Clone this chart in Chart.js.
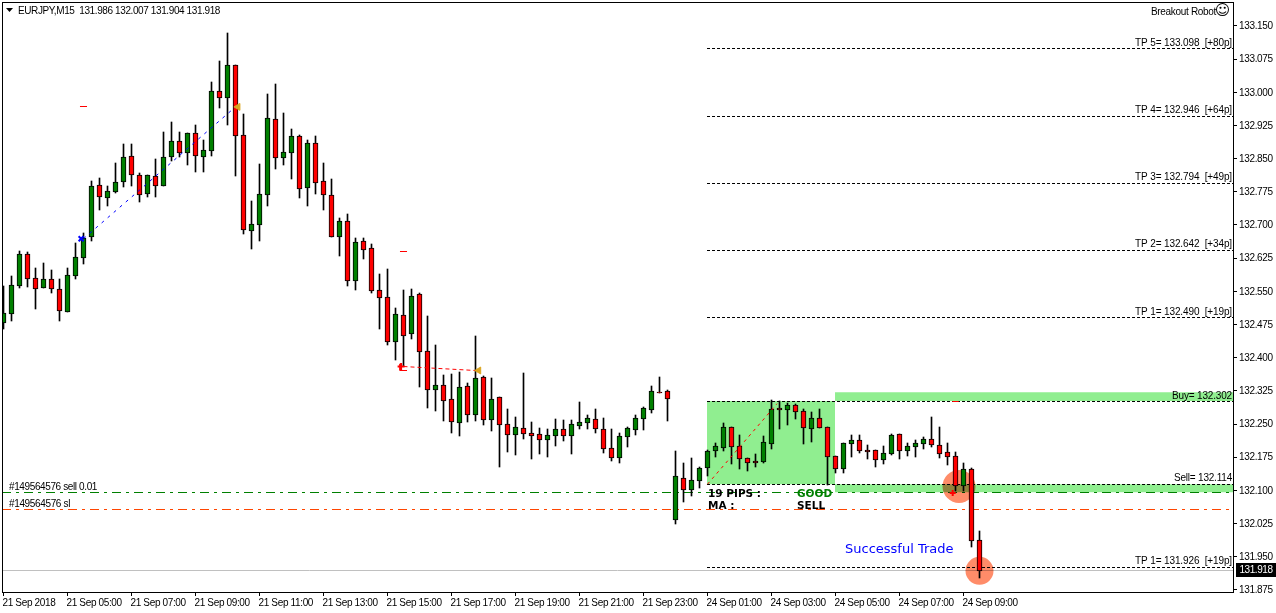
<!DOCTYPE html>
<html><head><meta charset="utf-8">
<style>html,body{margin:0;padding:0;background:#fff;overflow:hidden}canvas{display:block}</style>
<script src="https://cdn.jsdelivr.net/npm/chart.js@4"></script>
</head><body><canvas id="c" width="1276" height="613"></canvas>
<script>
const highs=[132.562,132.583,132.641,132.637,132.602,132.613,132.596,132.576,132.602,132.659,132.681,132.799,132.804,132.788,132.838,132.881,132.883,132.817,132.812,132.847,132.908,132.931,132.910,132.907,132.924,132.890,133.023,133.069,133.132,133.061,132.950,132.754,132.836,
132.994,133.017,132.951,132.917,132.903,132.890,132.899,132.838,132.802,132.715,132.724,132.670,132.670,132.657,132.589,132.600,132.512,132.551,132.555,132.545,132.494,132.428,132.360,132.362,132.367,132.342,132.448,132.357,132.353,132.310,132.283,132.265,132.365,132.253,132.239,132.237,132.260,132.258,132.258,132.299,132.270,132.283,132.262,132.238,132.228,132.242,132.270,132.288,132.334,132.356,132.326,132.188,
132.160,132.172,132.151,132.190,132.206,132.251,132.242,132.224,132.172,132.181,132.222,132.304,132.301,132.296,132.294,132.283,132.276,132.283,132.242,132.176,132.206,132.225,132.225,132.201,132.190,132.199,132.226,132.226,132.206,132.213,132.219,132.265,132.243,132.206,132.185,132.160,132.149,132.007];
const lows=[132.466,132.485,132.558,132.562,132.511,132.558,132.547,132.485,132.505,132.578,132.612,132.664,132.736,132.745,132.773,132.788,132.790,132.754,132.764,132.765,132.790,132.845,132.855,132.836,132.822,132.822,132.858,132.965,132.928,132.813,132.680,132.646,132.664,
132.743,132.827,132.836,132.806,132.763,132.745,132.772,132.736,132.674,132.632,132.564,132.555,132.625,132.548,132.467,132.429,132.395,132.383,132.444,132.335,132.288,132.281,132.258,132.231,132.224,132.256,132.258,132.249,132.236,132.154,132.188,132.181,132.218,132.172,132.184,132.177,132.202,132.213,132.184,132.240,132.240,132.231,132.186,132.168,132.163,132.200,132.227,132.238,132.276,132.321,132.258,132.025,
132.075,132.089,132.107,132.134,132.177,132.191,132.160,132.150,132.145,132.154,132.164,132.194,132.240,132.249,132.263,132.206,132.211,132.242,132.114,132.141,132.141,132.177,132.185,132.173,132.154,132.161,132.181,132.173,132.179,132.177,132.195,132.199,132.175,132.158,132.100,132.099,131.972,131.904];
const opens=[132.479,132.500,132.563,132.634,132.579,132.558,132.577,132.555,132.505,132.585,132.626,132.674,132.790,132.763,132.775,132.799,132.855,132.812,132.771,132.810,132.790,132.855,132.889,132.864,132.907,132.855,132.869,133.002,132.989,133.061,132.903,132.688,132.701,
132.769,132.939,132.852,132.864,132.901,132.785,132.885,132.799,132.767,132.674,132.708,132.575,132.663,132.647,132.552,132.536,132.437,132.496,132.455,132.543,132.414,132.328,132.337,132.305,132.253,132.334,132.271,132.355,132.260,132.310,132.249,132.226,132.239,132.228,132.226,132.215,132.224,132.237,132.224,132.246,132.253,132.260,132.237,132.194,132.174,132.221,132.237,132.262,132.282,132.322,132.323,132.034,
132.127,132.102,132.122,132.151,132.190,132.197,132.242,132.199,132.172,132.165,132.165,132.206,132.285,132.283,132.292,132.278,132.240,132.262,132.242,132.176,132.149,132.205,132.213,132.190,132.190,132.170,132.183,132.226,132.190,132.199,132.205,132.215,132.201,132.185,132.176,132.111,132.147,131.986];
const closes=[132.500,132.564,132.634,132.579,132.557,132.577,132.557,132.506,132.586,132.627,132.670,132.788,132.765,132.776,132.796,132.853,132.814,132.769,132.812,132.790,132.853,132.889,132.864,132.907,132.858,132.869,133.002,132.989,133.061,132.903,132.690,132.701,132.769,
132.941,132.852,132.864,132.901,132.783,132.885,132.797,132.769,132.674,132.708,132.575,132.661,132.645,132.552,132.536,132.437,132.498,132.450,132.539,132.414,132.328,132.337,132.303,132.255,132.332,132.271,132.353,132.260,132.305,132.249,132.226,132.242,132.228,132.224,132.215,132.224,132.237,132.224,132.249,132.253,132.262,132.239,132.194,132.174,132.221,132.239,132.262,132.285,132.323,132.321,132.307,132.131,
132.102,132.122,132.149,132.188,132.199,132.242,132.199,132.172,132.163,132.164,132.208,132.283,132.283,132.292,132.278,132.242,132.262,132.242,132.176,132.149,132.205,132.213,132.190,132.188,132.170,132.183,132.224,132.190,132.199,132.205,132.215,132.203,132.183,132.176,132.111,132.147,131.986,131.918];

const xTickIndex=[0,8,16,24,32,40,48,56,64,72,80,88,96,104,112,120];
const xTickLabels=["21 Sep 2018","21 Sep 05:00","21 Sep 07:00","21 Sep 09:00","21 Sep 11:00","21 Sep 13:00","21 Sep 15:00","21 Sep 17:00","21 Sep 19:00","21 Sep 21:00","21 Sep 23:00","24 Sep 01:00","24 Sep 03:00","24 Sep 05:00","24 Sep 07:00","24 Sep 09:00"];
const yTicks=[131.875,131.950,132.025,132.100,132.175,132.250,132.325,132.400,132.475,132.550,132.625,132.700,132.775,132.850,132.925,133.000,133.075,133.150];

const levelPrices=[133.098,132.946,132.794,132.642,132.490,131.926];
const levelLabels=["TP 5= 133.098  [+80p]","TP 4= 132.946  [+64p]","TP 3= 132.794  [+49p]","TP 2= 132.642  [+34p]","TP 1= 132.490  [+19p]","TP 1= 131.926  [+19p]"];
const buyLevel=132.302, sellLevel=132.114, buyStrip=132.322, sellStrip=132.096;
const orderPrice=132.0945, slPrice=132.056, lastPrice=131.918;
const boxStart=87.94, boxEnd=103.94;
const blueTradeX=[10,29], blueTradeY=[132.669,132.967];
const redTradeX=[50,59], redTradeY=[132.380,132.371];
const signalTradeX=[88,96.7], signalTradeY=[132.114,132.296];
const circleX=[119.44,122], circleY=[132.109,131.918], circleR=[16.5,14];

const FONT='"Liberation Sans",sans-serif';
const xMin=-0.1875, xMax=153.6875, yMax=133.20415, yMin=131.87021;
const idx=highs.map((_,i)=>i);

function seg(xs,ys,color,dash,extra){
  return Object.assign({type:'line',data:xs.map((x,i)=>({x,y:ys[i]})),borderColor:color,borderWidth:1,borderDash:dash||[],pointRadius:0,tension:0,fill:false,order:9,snap:true},extra||{});
}
function area(x0,x1,hi,lo){
  return {type:'line',data:[{x:x0,y:hi},{x:x1,y:hi}],borderWidth:0,pointRadius:0,borderColor:'rgba(0,0,0,0)',backgroundColor:'#90EE90',fill:{value:lo},order:12};
}
function marker(x,y,style,color,radius,rot,extra){
  return Object.assign({type:'line',showLine:false,data:[{x,y}],pointStyle:style,pointRadius:radius,pointRotation:rot||0,pointBackgroundColor:color,pointBorderColor:color,pointBorderWidth:1,order:1},extra||{});
}
const dot=[3,2], dashdot=[9,5,3,5];
const datasets=[
  area(boxStart,boxEnd,buyLevel,sellLevel),
  area(boxEnd,xMax,buyStrip,buyLevel),
  area(boxEnd,xMax,sellLevel,sellStrip),
  ...levelPrices.map(p=>seg([boxStart,xMax],[p,p],'#000',dot)),
  seg([boxStart,xMax],[buyLevel,buyLevel],'#000',dot),
  seg([boxStart,xMax],[sellLevel,sellLevel],'#000',dot),
  seg([xMin,xMax],[orderPrice,orderPrice],'#008000',dashdot),
  seg([xMin,xMax],[slPrice,slPrice],'#FF4500',dashdot),
  seg([xMin,xMax],[lastPrice,lastPrice],'#C0C0C0',[]),
  seg(blueTradeX,blueTradeY,'#0000FF',[3,5],{snap:false,order:2}),
  seg(redTradeX,redTradeY,'#FF0000',[4,3],{snap:false,order:2}),
  seg(signalTradeX,signalTradeY,'#FF0000',[3,4],{snap:false,order:2}),
  seg([9.56,10.44],[132.967,132.967],'#FF0000',[],{order:2}),
  seg([49.56,50.44],[132.640,132.640],'#FF0000',[],{order:2}),
  seg([118.6,119.4],[132.302,132.302],'#FF0000',[],{order:2}),
  seg([49.56,49.56,50.44],[132.386,132.371,132.371],'#FF0000',[],{order:2,snap:false}),
  {type:'line',showLine:false,data:circleX.map((x,i)=>({x,y:circleY[i]})),pointStyle:'circle',pointRadius:circleR,pointBorderWidth:0,pointBackgroundColor:'#FF8C69',order:8,multiply:true},
  {type:'bar',data:idx.map(i=>({x:i,y:[lows[i],highs[i]]})),backgroundColor:'#000',borderWidth:0,barThickness:1,grouped:false,order:5,candle:true},
  {type:'bar',data:idx.map(i=>({x:i,y:[opens[i],closes[i]]})),backgroundColor:idx.map(i=>closes[i]>=opens[i]?'#008000':'#FF0000'),borderColor:'#000',borderWidth:1,borderSkipped:false,barThickness:5,grouped:false,order:4,candle:true},
  marker(9.7,132.669,'crossRot','#0000FF',3.5,0,{pointBorderWidth:2}),
  marker(29.3,132.967,'triangle','#DAA520',4,-90),
  marker(49.7,132.380,'cross','#FF0000',3.5,0,{pointBorderWidth:2}),
  marker(59.4,132.371,'triangle','#DAA520',4,-90),
  marker(118.65,132.094,'cross','#FF0000',3,0,{pointBorderWidth:2}),
];

const pixelPlugin={id:'pixel',
  beforeDraw(chart){chart.ctx.letterSpacing='-0.35px';},
  afterDatasetsUpdate(chart){
    chart.data.datasets.forEach((d,i)=>{
      const m=chart.getDatasetMeta(i);
      if(d.candle){m.data.forEach(el=>{
        const t=Math.floor(Math.min(el.y,el.base)), b=Math.floor(Math.max(el.y,el.base))+1;
        el.y=t; el.base=b; el.height=b-t;
      });}
      else if(d.snap){m.data.forEach(el=>{el.y=Math.floor(el.y)+0.5;});}
    });
  },
  beforeDatasetDraw(chart,args){
    if(chart.data.datasets[args.index].multiply){chart.ctx.save();chart.ctx.globalCompositeOperation='multiply';}
  },
  afterDatasetDraw(chart,args){
    if(chart.data.datasets[args.index].multiply){chart.ctx.restore();}
  }
};
const textPlugin={id:'text',
  afterDraw(chart){
    const ctx=chart.ctx,y=chart.scales.y,x=chart.scales.x,a=chart.chartArea;
    ctx.save();
    ctx.strokeStyle='#000';ctx.lineWidth=1;
    ctx.strokeRect(a.left+0.5,a.top+0.5,a.right-a.left,a.bottom-a.top);
    ctx.textBaseline='middle';
    const t=(s,px,py,font,color,align,width)=>{
      ctx.font=font;ctx.fillStyle=color||'#000';ctx.textAlign=align||'left';
      ctx.letterSpacing='0px';
      if(width){ctx.letterSpacing=((width-ctx.measureText(s).width)/s.length).toFixed(3)+'px';}
      ctx.fillText(s,px,py);
    };
    const f=`10px ${FONT}`;
    ctx.fillStyle='#000';ctx.beginPath();ctx.moveTo(6,8);ctx.lineTo(13,8);ctx.lineTo(9.5,12);ctx.closePath();ctx.fill();
    t('EURJPY,M15  131.986 132.007 131.904 131.918',18,11,f,'#000','left',202);
    t('Breakout Robot',1216,12,f,'#000','right',65);
    t('☺',1222.5,11.5,'15px "DejaVu Sans"','#000','center');
    levelPrices.forEach((p,i)=>t(levelLabels[i],a.right-1,y.getPixelForValue(p)-6,f,'#000','right',97));
    t('Buy= 132.302',a.right-1,y.getPixelForValue(buyLevel)-5,f,'#000','right',60);
    t('Sell= 132.114',a.right-1,y.getPixelForValue(sellLevel)-5.5,f,'#000','right',58);
    t('#149564576 sell 0.01',9,y.getPixelForValue(orderPrice)-5.5,f,'#000','left',88);
    t('#149564576 sl',9,y.getPixelForValue(slPrice)-6,f,'#000','left',61);
    const b='bold 10.5px "DejaVu Sans"';
    t('19 PIPS :',x.getPixelForValue(boxStart)+1,494.5,b);
    t('MA :',x.getPixelForValue(boxStart)+1,506.5,b);
    t('GOOD',797,494.5,b,'#008000');
    t('SELL',797,506.5,b);
    t('Successful Trade',845,549.5,'13px "DejaVu Sans"','#0000FF');
    const ly=Math.floor(y.getPixelForValue(lastPrice));
    ctx.fillStyle='#000';ctx.fillRect(1236,ly-7,40,14);
    t(lastPrice.toFixed(3),1239.5,ly+0.5,f,'#fff','left',33);
    ctx.restore();
  }
};
const noPad=s=>{s.paddingLeft=0;s.paddingRight=0;s.paddingTop=0;s.paddingBottom=0;};
new Chart(document.getElementById('c'),{
  type:'bar',
  data:{datasets},
  plugins:[pixelPlugin,textPlugin],
  options:{
    responsive:false,animation:false,devicePixelRatio:1,
    layout:{autoPadding:false,padding:{left:2,top:2,right:0,bottom:0}},
    plugins:{legend:{display:false},tooltip:{enabled:false},title:{display:false}},
    events:[],
    scales:{
      x:{type:'linear',min:xMin,max:xMax,offset:false,
        afterFit:s=>{s.height=21;noPad(s);},
        afterBuildTicks:s=>{s.ticks=xTickIndex.map(v=>({value:v}));},
        border:{display:false},
        grid:{offset:false,drawOnChartArea:false,color:'#000',tickColor:'#000',tickLength:4},
        ticks:{autoSkip:false,maxRotation:0,minRotation:0,align:'start',labelOffset:-1,padding:1,color:'#000',font:{family:FONT,size:10},
          callback:(v)=>xTickLabels[xTickIndex.indexOf(v)]}},
      y:{type:'linear',position:'right',min:yMin,max:yMax,
        afterFit:s=>{s.width=43;noPad(s);},
        afterBuildTicks:s=>{s.ticks=yTicks.map(v=>({value:v}));},
        border:{display:false},
        grid:{drawOnChartArea:false,color:'#000',tickColor:'#000',tickLength:4},
        ticks:{autoSkip:false,padding:2,labelOffset:0.5,color:'#000',font:{family:FONT,size:10},callback:v=>Number(v).toFixed(3)}}
    }
  }
});
</script></body></html>
